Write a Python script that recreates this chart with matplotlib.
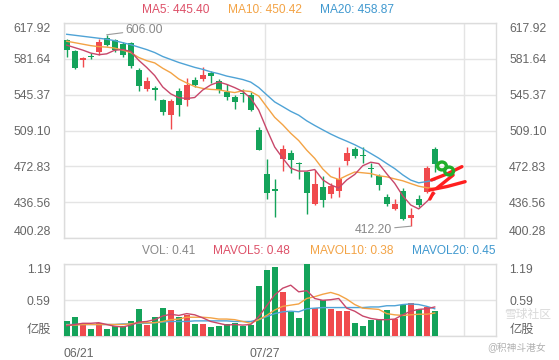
import matplotlib
matplotlib.use("Agg")
import matplotlib.pyplot as plt
from matplotlib.patches import Ellipse
import numpy as np

plt.rcParams["font.family"] = ["Liberation Sans", "Noto Sans CJK SC", "DejaVu Sans"]

# daily candles
opens = [600.7, 589.6, 580.8, 584.0, 588.9, 603.4, 600.7, 597.4, 598.0, 571.0,
         551.8, 552.4, 540.0, 524.8, 549.4, 540.7, 560.2, 561.2, 568.0, 559.5,
         548.4, 543.3, 546.7, 545.0, 509.6, 465.1, 450.6, 480.2, 487.0, 475.9,
         467.4, 434.7, 452.2, 445.5, 448.2, 478.2, 491.1, 483.3, 470.8, 463.0,
         442.0, 430.3, 447.8, 420.8, 439.7, 447.1, 491.1]
highs = [601.5, 590.6, 583.0, 587.2, 601.4, 606.0, 601.7, 599.0, 599.0, 572.7,
         563.0, 554.1, 541.0, 540.5, 551.8, 562.0, 563.6, 573.0, 569.6, 561.5,
         556.2, 544.9, 550.8, 548.4, 513.0, 480.2, 459.5, 494.4, 489.4, 477.5,
         468.0, 469.1, 463.0, 455.6, 471.8, 492.7, 492.7, 492.1, 475.9, 465.0,
         444.8, 440.0, 450.6, 430.3, 443.8, 473.0, 492.1]
lows = [583.2, 571.3, 573.7, 581.2, 585.5, 594.6, 588.9, 583.8, 572.0, 549.4,
        549.4, 540.0, 524.8, 510.3, 523.8, 533.9, 553.4, 559.5, 557.5, 546.8,
        540.0, 530.6, 538.3, 529.2, 489.0, 439.5, 421.8, 468.4, 465.8, 459.7,
        424.6, 433.7, 432.0, 440.5, 442.0, 474.2, 480.9, 476.5, 462.3, 448.8,
        432.7, 428.6, 418.5, 412.2, 431.3, 445.5, 467.4]
closes = [591.3, 572.7, 582.5, 584.0, 598.7, 595.6, 591.3, 585.5, 574.4, 554.1,
          559.2, 550.1, 528.1, 539.3, 534.9, 555.2, 555.2, 566.0, 564.6, 550.1,
          543.3, 538.3, 546.7, 530.6, 490.1, 446.1, 447.8, 491.1, 479.2, 475.9,
          446.1, 455.6, 439.4, 452.9, 460.7, 486.6, 483.6, 483.3, 470.8, 453.9,
          434.7, 435.4, 420.2, 424.3, 433.7, 471.8, 475.2]
volumes = [0.24, 0.31, 0.20, 0.12, 0.21, 0.12, 0.16, 0.16, 0.25, 0.44,
           0.18, 0.31, 0.46, 0.43, 0.32, 0.34, 0.20, 0.20, 0.15, 0.17,
           0.20, 0.21, 0.17, 0.18, 0.83, 1.09, 1.14, 0.73, 0.40, 0.30,
           1.19, 0.46, 0.60, 0.44, 0.41, 0.41, 0.21, 0.17, 0.26, 0.28,
           0.43, 0.28, 0.52, 0.54, 0.45, 0.48, 0.41]

ma5 = [595.5, 593.0, 590.5, 587.5, 585.8, 586.7, 590.4, 591.0, 589.1, 580.2,
       572.9, 564.7, 553.2, 546.2, 542.3, 541.5, 542.5, 550.1, 555.2, 558.2,
       555.8, 552.5, 548.6, 541.8, 529.8, 510.4, 492.3, 481.1, 470.9, 468.0,
       468.0, 469.6, 459.2, 454.0, 450.9, 459.0, 464.6, 473.4, 477.0, 475.6,
       465.3, 455.6, 443.0, 433.7, 429.7, 437.1, 445.4]
ma10 = [599.5, 598.0, 596.5, 595.0, 594.0, 593.5, 592.5, 590.5, 588.0, 583.0,
        579.8, 577.5, 572.1, 567.6, 561.3, 557.2, 553.6, 551.7, 550.7, 550.3,
        548.7, 547.5, 549.4, 548.5, 544.0, 533.1, 522.4, 514.9, 506.3, 498.9,
        489.2, 480.9, 470.2, 462.4, 459.5, 463.5, 467.1, 466.3, 465.5, 463.3,
        462.2, 460.1, 458.2, 455.4, 452.7, 451.2, 450.4]
ma20 = [606.5, 605.5, 604.5, 603.5, 602.5, 601.5, 600.0, 598.0, 596.0, 593.5,
        591.0, 588.0, 584.0, 581.0, 578.0, 575.5, 573.0, 571.0, 568.5, 566.6,
        564.2, 562.5, 560.7, 558.1, 552.6, 545.2, 538.0, 533.3, 528.5, 524.6,
        518.9, 514.2, 509.8, 505.5, 501.7, 498.3, 494.7, 490.6, 485.9, 481.1,
        475.7, 470.5, 464.2, 458.9, 456.1, 457.4, 458.9]
mavol5 = [0.17, 0.19, 0.21, 0.21, 0.22, 0.19, 0.16, 0.15, 0.18, 0.23,
          0.24, 0.27, 0.33, 0.36, 0.34, 0.37, 0.35, 0.30, 0.24, 0.21,
          0.18, 0.19, 0.18, 0.19, 0.32, 0.50, 0.68, 0.79, 0.84, 0.73,
          0.75, 0.62, 0.59, 0.60, 0.62, 0.46, 0.41, 0.33, 0.29, 0.27,
          0.27, 0.28, 0.35, 0.41, 0.44, 0.45, 0.48]
mavol10 = [0.18, 0.18, 0.19, 0.19, 0.19, 0.19, 0.19, 0.19, 0.20, 0.22,
           0.22, 0.22, 0.24, 0.27, 0.28, 0.31, 0.31, 0.31, 0.30, 0.28,
           0.28, 0.27, 0.24, 0.21, 0.27, 0.34, 0.43, 0.49, 0.51, 0.53,
           0.62, 0.65, 0.69, 0.72, 0.68, 0.61, 0.52, 0.46, 0.45, 0.44,
           0.37, 0.35, 0.34, 0.35, 0.36, 0.36, 0.38]
mavol20 = [0.19, 0.19, 0.19, 0.19, 0.19, 0.19, 0.19, 0.20, 0.20, 0.21,
           0.21, 0.22, 0.23, 0.24, 0.24, 0.24, 0.25, 0.25, 0.25, 0.25,
           0.25, 0.24, 0.24, 0.24, 0.27, 0.32, 0.37, 0.40, 0.41, 0.40,
           0.45, 0.46, 0.47, 0.47, 0.47, 0.47, 0.47, 0.47, 0.48, 0.48,
           0.50, 0.50, 0.52, 0.53, 0.52, 0.49, 0.45]

price_ticks = [400.28, 436.56, 472.83, 509.10, 545.37, 581.64, 617.92]
vol_ticks = [0, 0.59, 1.19]
vol_labels = ["亿股", "0.59", "1.19"]
date_labels = ["06/21", "07/27", ""]

RED = "#f04a4d"
GREEN = "#14a35a"
C_MA5 = "#c8476a"
C_MA10 = "#f3a345"
C_MA20 = "#4fa3d6"
GRID = "#e4e4e4"
TXT = "#666666"

n_slots = 54
x = np.arange(len(closes))
x_lo = -0.34
xlim = (x_lo, x_lo + n_slots)
date_pos = [x_lo, x_lo + 25.12, x_lo + 50.0]

fig = plt.figure(figsize=(5.59, 3.60), dpi=100)
ax = fig.add_axes([64 / 559, 1 - 238 / 360, 432 / 559, 215 / 360])
axv = fig.add_axes([64 / 559, 1 - 336 / 360, 432 / 559, 72 / 360])


def style_axis(a, ticks, labels):
    a.set_xlim(*xlim)
    a.set_yticks(ticks)
    a.set_yticklabels(labels)
    a.set_xticks(date_pos)
    a.grid(True, color=GRID, lw=1)
    a.set_axisbelow(True)
    for s in a.spines.values():
        s.set_color("#dcdcdc")
        s.set_linewidth(1)
    a.tick_params(axis="y", left=False, right=False, labelleft=True, labelright=True,
                  labelsize=8.8, labelcolor=TXT, pad=6)
    a.tick_params(axis="x", bottom=False, labelsize=8.8, labelcolor=TXT, pad=5)
    t = a.yaxis.get_major_ticks()
    t[0].label1.set_va("bottom")
    t[0].label2.set_va("bottom")
    t[-1].label1.set_va("top")
    t[-1].label2.set_va("top")


# price panel
o = np.array(opens)
c = np.array(closes)
col = np.where(c > o, RED, GREEN)
ax.vlines(x, lows, highs, colors=col, lw=1, zorder=2)
ax.bar(x, np.maximum(np.abs(c - o), 0.9), bottom=np.minimum(o, c) - 0.3,
       width=0.72, color=col, lw=0, zorder=3)
ax.plot(x, ma20, color=C_MA20, lw=1, zorder=4)
ax.plot(x, ma10, color=C_MA10, lw=1, zorder=4)
ax.plot(x, ma5, color=C_MA5, lw=1, zorder=4)
ax.set_ylim(price_ticks[0], price_ticks[-1])
style_axis(ax, price_ticks, ["%.2f" % v for v in price_ticks])
ax.set_xticklabels([])

hi = int(np.argmax(highs))
lo = int(np.argmin(lows))
ax.annotate("%.2f" % highs[hi], xy=(hi, highs[hi]), xytext=(13.5, 3.5),
            textcoords="offset points", ha="left", va="center", fontsize=8.8,
            color="#888888",
            arrowprops=dict(arrowstyle="-", color="#9a9a9a", lw=0.8,
                            shrinkA=0, shrinkB=0))
ax.annotate("%.2f" % lows[lo], xy=(lo, lows[lo]), xytext=(-13.5, -2.5),
            textcoords="offset points", ha="right", va="center", fontsize=8.8,
            color="#888888",
            arrowprops=dict(arrowstyle="-", color="#9a9a9a", lw=0.8,
                            shrinkA=0, shrinkB=0))

# hand-drawn pen marks over the last candles
pen_red = [
    ([45.6, 47.5, 49.4], [459.0, 465.0, 472.5]),
    ([45.4, 47.6, 49.8], [448.9, 452.5, 457.3]),
    ([46.25, 48.3], [450.6, 464.0]),
    ([45.8, 45.4], [445.8, 439.7]),
]
pen_green = [(46.9, 473.2), (47.8, 468.1)]
for px, py in pen_red:
    ax.plot(px, py, color="#ff1f1f", lw=2.4, solid_capstyle="round", zorder=6)
for gx, gy in pen_green:
    ax.add_patch(Ellipse((gx, gy), 1.1, 8.0, fill=False, ec="#1fae2a", lw=2.4, zorder=6))

# volume panel
axv.bar(x, volumes, width=0.72, color=col, lw=0, zorder=3)
axv.plot(x, mavol20, color=C_MA20, lw=1, zorder=4)
axv.plot(x, mavol10, color=C_MA10, lw=1, zorder=4)
axv.plot(x, mavol5, color=C_MA5, lw=1, zorder=4)
axv.set_ylim(0, 1.19)
style_axis(axv, vol_ticks, vol_labels)
axv.set_xticklabels(date_labels)
axv.get_xticklabels()[0].set_ha("left")

# legends
def legend_row(y, items):
    for xp, s, colr in items:
        fig.text(xp / 559, 1 - y / 360, s, color=colr, fontsize=8.6,
                 ha="left", va="center")


legend_row(10, [(142.5, "MA5: %.2f" % ma5[-1], "#dd5068"),
                (228.5, "MA10: %.2f" % 450.42, C_MA10),
                (320.5, "MA20: %.2f" % 458.87, "#3f98cf")])
legend_row(251, [(142.5, "VOL: %.2f" % volumes[-1], "#888888"),
                 (213.0, "MAVOL5: %.2f" % mavol5[-1], "#dd5068"),
                 (310.0, "MAVOL10: %.2f" % mavol10[-1], C_MA10),
                 (412.5, "MAVOL20: %.2f" % mavol20[-1], "#3f98cf")])

# watermark, kept clear of the right-hand unit label
fig.text(528 / 559, 1 - 315 / 360, "雪球社区", color="#d0d0d0", fontsize=8.5,
         ha="center", va="center", alpha=0.8)
fig.text(517 / 559, 1 - 348 / 360, "@积神斗港女", color="#b0b0b0", fontsize=7,
         ha="center", va="center")

fig.savefig("out.png", dpi=100)
